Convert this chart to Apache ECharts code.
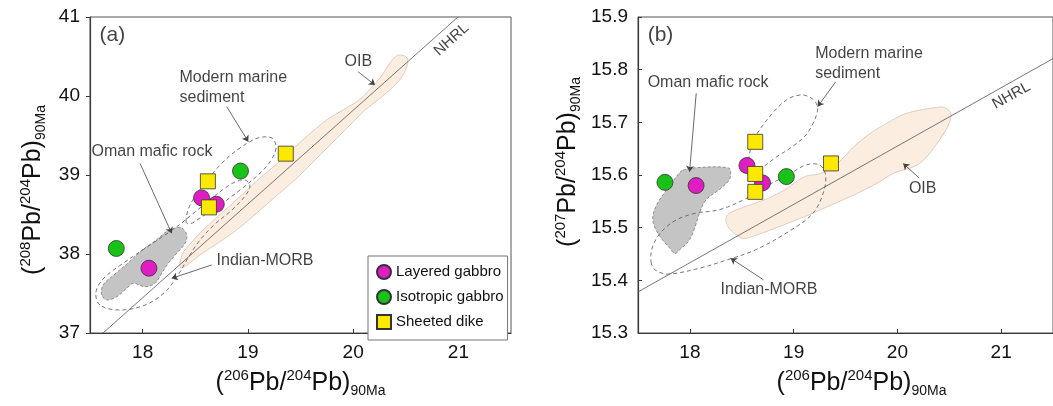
<!DOCTYPE html>
<html>
<head>
<meta charset="utf-8">
<script src="https://cdn.jsdelivr.net/npm/echarts@6/dist/echarts.min.js"></script>
<style>
  html, body { margin: 0; padding: 0; background: #fff; }
  #chart { width: 1053px; height: 406px; }
</style>
</head>
<body>
<div id="chart"></div>
<script>
const FONT = '"Liberation Sans", Arial, Helvetica, sans-serif';

// Axis ticks
const xTicks = [18, 19, 20, 21];
const yTicksA = [37, 38, 39, 40, 41];
const yTicksB = [15.3, 15.4, 15.5, 15.6, 15.7, 15.8, 15.9];

// Panel (a): 206Pb/204Pb vs 208Pb/204Pb (initial ratios at 90 Ma)
const layeredA = [[18.56, 38.71], [18.70, 38.63], [18.06, 37.82]];
const isotropicA = [[18.93, 39.05], [17.75, 38.07]];
const dikeA = [[19.36, 39.27], [18.62, 38.92], [18.63, 38.59]];

// Panel (b): 206Pb/204Pb vs 207Pb/204Pb
const layeredB = [[18.55, 15.618], [18.70, 15.585], [18.06, 15.580]];
const isotropicB = [[17.76, 15.586], [18.93, 15.597]];
const dikeB = [[18.63, 15.663], [18.63, 15.602], [18.63, 15.568], [19.36, 15.622]];

// Northern Hemisphere Reference Line end points
const nhrlA = [[17.624, 37.0], [20.996, 41.0]];
const nhrlB = [[17.5, 15.378], [21.5, 15.821]];

// Reference fields, panel (a)
const oibA = [[18.365,37.823],[18.374,37.987],[18.460,38.139],[18.555,38.278],[18.697,38.456],[18.849,38.633],[18.982,38.797],[19.115,38.962],[19.286,39.152],[19.457,39.367],[19.619,39.557],[19.761,39.709],[19.904,39.823],[20.056,39.949],[20.170,40.101],[20.255,40.228],[20.331,40.380],[20.388,40.481],[20.445,40.519],[20.512,40.481],[20.512,40.380],[20.455,40.228],[20.369,40.101],[20.236,39.949],[20.113,39.823],[20.027,39.709],[19.913,39.557],[19.771,39.367],[19.609,39.152],[19.467,38.962],[19.324,38.797],[19.182,38.633],[19.030,38.456],[18.868,38.278],[18.716,38.139],[18.545,37.987]];
const omanA = [[18.374,38.329],[18.419,38.241],[18.403,38.135],[18.324,38.009],[18.244,37.882],[18.181,37.756],[18.118,37.629],[18.023,37.586],[17.911,37.629],[17.849,37.566],[17.754,37.459],[17.659,37.418],[17.611,37.481],[17.624,37.608],[17.738,37.747],[17.861,37.886],[17.985,38.038],[18.118,38.165],[18.222,38.278],[18.308,38.329]];
const morbA = [[17.595,37.354],[17.557,37.519],[17.633,37.696],[17.833,37.899],[18.070,38.114],[18.308,38.329],[18.498,38.532],[18.659,38.709],[18.783,38.835],[18.878,38.911],[18.973,38.937],[19.020,38.861],[18.973,38.734],[18.849,38.557],[18.688,38.380],[18.545,38.177],[18.431,37.949],[18.336,37.734],[18.213,37.519],[18.023,37.354],[17.785,37.291]];
const sedA = [[18.412,38.405],[18.450,38.620],[18.593,38.899],[18.754,39.152],[18.925,39.342],[19.096,39.468],[19.229,39.468],[19.267,39.342],[19.210,39.165],[19.096,39.000],[18.925,38.810],[18.735,38.620],[18.545,38.456],[18.450,38.380]];

// Reference fields, panel (b)
const oibB = [[20.467,15.727],[20.404,15.729],[20.087,15.717],[19.897,15.698],[19.738,15.679],[19.581,15.654],[19.422,15.622],[19.263,15.603],[19.106,15.597],[18.916,15.572],[18.757,15.556],[18.536,15.540],[18.377,15.527],[18.346,15.515],[18.377,15.499],[18.503,15.480],[18.598,15.483],[18.821,15.499],[19.106,15.521],[19.327,15.540],[19.581,15.562],[19.802,15.584],[19.961,15.603],[20.214,15.622],[20.404,15.666],[20.499,15.698],[20.515,15.717]];
const omanB = [[17.933,15.609],[18.156,15.615],[18.377,15.613],[18.393,15.603],[18.377,15.590],[18.282,15.572],[18.156,15.553],[18.092,15.527],[18.061,15.508],[17.997,15.477],[17.902,15.458],[17.854,15.451],[17.807,15.461],[17.712,15.483],[17.648,15.508],[17.648,15.527],[17.696,15.549],[17.776,15.572],[17.871,15.597]];
const morbB = [[17.626,15.435],[17.664,15.420],[17.788,15.412],[18.092,15.423],[18.377,15.440],[18.634,15.458],[18.947,15.492],[19.185,15.527],[19.289,15.568],[19.308,15.600],[19.251,15.619],[19.118,15.619],[18.947,15.600],[18.757,15.581],[18.519,15.553],[18.282,15.534],[18.044,15.527],[17.854,15.513],[17.712,15.489],[17.636,15.461]];
const sedB = [[18.567,15.628],[18.614,15.666],[18.757,15.708],[18.928,15.742],[19.071,15.752],[19.185,15.744],[19.232,15.727],[19.194,15.701],[19.118,15.676],[18.995,15.655],[18.833,15.634],[18.681,15.613],[18.586,15.609]];

// Field labels: [text, x, y] (left edge, vertical centre)
const notesA = [
  ['OIB', 19.923, 40.43],
  ['Modern marine\nsediment', 18.355, 40.10],
  ['Oman mafic rock', 17.519, 39.29],
  ['Indian-MORB', 18.707, 37.91]
];
const notesB = [
  ['Modern marine\nsediment', 19.213, 15.810],
  ['Oman mafic rock', 17.598, 15.775],
  ['OIB', 20.116, 15.573],
  ['Indian-MORB', 18.301, 15.382]
];
// Leader arrows: [x1, y1, x2, y2]
const arrowsA = [
  [20.046, 40.308, 20.208, 40.139],
  [18.799, 39.865, 19.004, 39.422],
  [17.975, 39.148, 18.276, 38.262],
  [18.656, 37.861, 18.276, 37.692]
];
const arrowsB = [
  [19.406, 15.777, 19.232, 15.730],
  [18.061, 15.755, 17.997, 15.606],
  [20.211, 15.594, 20.056, 15.622],
  [18.709, 15.401, 18.393, 15.442]
];

const AXIS_COLOR = '#3a3a3a';

function titleRich() {
  return {
    p: { fontSize: 25, lineHeight: 30, fontFamily: FONT, color: '#111' },
    s: { fontSize: 15, lineHeight: 12, verticalAlign: 'top', fontFamily: FONT, color: '#111' },
    u: { fontSize: 14, lineHeight: 20, verticalAlign: 'bottom', fontFamily: FONT, color: '#111' }
  };
}
function ratioName(num) {
  return '{p|(}{s|' + num + '}{p|Pb/}{s|204}{p|Pb)}{u|90Ma}';
}

function xAxisFor(idx, pad) {
  return {
    type: 'value', gridIndex: idx, min: 17.5, max: 21.5,
    axisLine: { show: true, lineStyle: { color: AXIS_COLOR, width: 1.2 } },
    axisTick: { show: true, inside: true, length: 4, customValues: xTicks, lineStyle: { color: AXIS_COLOR } },
    axisLabel: { customValues: xTicks, fontSize: 19, color: '#111', fontFamily: FONT, margin: 10 },
    splitLine: { show: false },
    name: ratioName(206), nameLocation: 'middle', nameGap: 35,
    nameTextStyle: { rich: titleRich(), padding: pad }
  };
}
function yAxisFor(idx, min, max, ticks, digits, inside, num, gap, pad) {
  return {
    type: 'value', gridIndex: idx, min, max,
    axisLine: { show: true, lineStyle: { color: AXIS_COLOR, width: 1.2 } },
    axisTick: { show: true, inside, length: 4, customValues: ticks, lineStyle: { color: AXIS_COLOR } },
    axisLabel: { customValues: ticks, fontSize: 19, color: '#111', fontFamily: FONT, margin: 10,
                 formatter: v => v.toFixed(digits) },
    splitLine: { show: false },
    name: ratioName(num), nameLocation: 'middle', nameRotate: 90, nameGap: gap,
    nameTextStyle: { rich: titleRich(), padding: pad }
  };
}

// Closed outline of a reference field, drawn once through the axis scales
function field(idx, pts, style, z) {
  return {
    type: 'custom', xAxisIndex: idx, yAxisIndex: idx, silent: true, z,
    data: pts,
    renderItem: (params, api) => {
      if (params.dataIndex !== 0) return null;
      return {
        type: 'polygon',
        shape: { points: pts.map(p => api.coord(p)), smooth: 0.35 },
        style
      };
    }
  };
}
const oibStyle = { fill: '#fcede1', stroke: '#d6c4b6', lineWidth: 0.8 };
const omanStyle = { fill: '#c4c4c4', stroke: '#7a7a7a', lineWidth: 0.8, lineDash: [3, 2] };
const dashStyle = { fill: 'none', stroke: '#555', lineWidth: 0.8, lineDash: [4, 3] };

function refLine(idx, pts, arrows) {
  return {
    type: 'line', xAxisIndex: idx, yAxisIndex: idx, data: pts, symbol: 'none', silent: true, z: 3,
    lineStyle: { color: '#555', width: 0.8 },
    markLine: {
      silent: true, symbol: ['none', 'arrow'], symbolSize: 6,
      lineStyle: { color: '#444', width: 0.8, type: 'solid' },
      label: { show: false },
      data: arrows.map(a => [{ coord: [a[0], a[1]] }, { coord: [a[2], a[3]] }])
    }
  };
}

function notes(idx, list, extra) {
  const items = list.map(n => ({ name: n[0], value: [n[1], n[2]] })).concat(extra);
  return {
    type: 'scatter', xAxisIndex: idx, yAxisIndex: idx, symbolSize: 1, silent: true, z: 6,
    itemStyle: { color: 'transparent' },
    data: items,
    label: { show: true, position: [0, 0], align: 'left', verticalAlign: 'middle', formatter: '{b}',
             fontSize: 16, lineHeight: 20, color: '#111', fontFamily: FONT }
  };
}

const magenta = '#e01cc3', green = '#19c219', yellow = '#fde800';
function pts(idx, name, data, symbol, color, size) {
  return {
    type: 'scatter', name, xAxisIndex: idx, yAxisIndex: idx, data, symbol, symbolSize: size, z: 5,
    itemStyle: { color, borderColor: '#333', borderWidth: 0.8, opacity: 1 }
  };
}

const chart = echarts.init(document.getElementById('chart'), null, { renderer: 'canvas' });
chart.setOption({
  animation: false,
  backgroundColor: '#fff',
  grid: [
    { left: 90, top: 17, width: 421, height: 316, show: true, borderColor: '#555', borderWidth: 1, backgroundColor: '#fff' },
    { left: 638, top: 17, width: 421, height: 316, show: true, borderColor: '#555', borderWidth: 1, backgroundColor: '#fff' }
  ],
  xAxis: [xAxisFor(0, [0, 0, 0, 0]), xAxisFor(1, [0, 0, 0, 32])],
  yAxis: [
    yAxisFor(0, 37, 41, yTicksA, 0, false, 208, 42, [0, 30, 0, 0]),
    yAxisFor(1, 15.3, 15.9, yTicksB, 1, true, 207, 55, [0, 0, 0, 26])
  ],
  legend: {
    left: 368, top: 256, orient: 'vertical',
    data: ['Layered gabbro', 'Isotropic gabbro', 'Sheeted dike'],
    itemWidth: 14, itemHeight: 14, itemGap: 9,
    padding: [8, 4, 10, 8],
    backgroundColor: '#fff', borderColor: '#777', borderWidth: 1,
    textStyle: { fontSize: 15, color: '#111', fontFamily: FONT },
    selectedMode: false
  },
  series: [
    field(0, oibA, oibStyle, 1),
    field(0, omanA, omanStyle, 1),
    field(0, morbA, dashStyle, 2),
    field(0, sedA, dashStyle, 2),
    refLine(0, nhrlA, arrowsA),
    notes(0, notesA, [
      { name: '(a)', value: [17.595, 40.76], label: { fontSize: 21 } },
      { name: 'NHRL', value: [20.939, 40.709], label: { rotate: 41.7, align: 'center', fontSize: 15 } }
    ]),
    pts(0, 'Layered gabbro', layeredA, 'circle', magenta, 16),
    pts(0, 'Isotropic gabbro', isotropicA, 'circle', green, 16),
    pts(0, 'Sheeted dike', dikeA, 'rect', yellow, 15),

    field(1, oibB, oibStyle, 1),
    field(1, omanB, omanStyle, 1),
    field(1, morbB, dashStyle, 2),
    field(1, sedB, dashStyle, 2),
    refLine(1, nhrlB, arrowsB),
    notes(1, notesB, [
      { name: '(b)', value: [17.598, 15.864], label: { fontSize: 21 } },
      { name: 'NHRL', value: [21.104, 15.750], label: { rotate: 29, align: 'center', fontSize: 15 } }
    ]),
    pts(1, 'Layered gabbro', layeredB, 'circle', magenta, 16),
    pts(1, 'Isotropic gabbro', isotropicB, 'circle', green, 16),
    pts(1, 'Sheeted dike', dikeB, 'rect', yellow, 15)
  ]
});
</script>
</body>
</html>
